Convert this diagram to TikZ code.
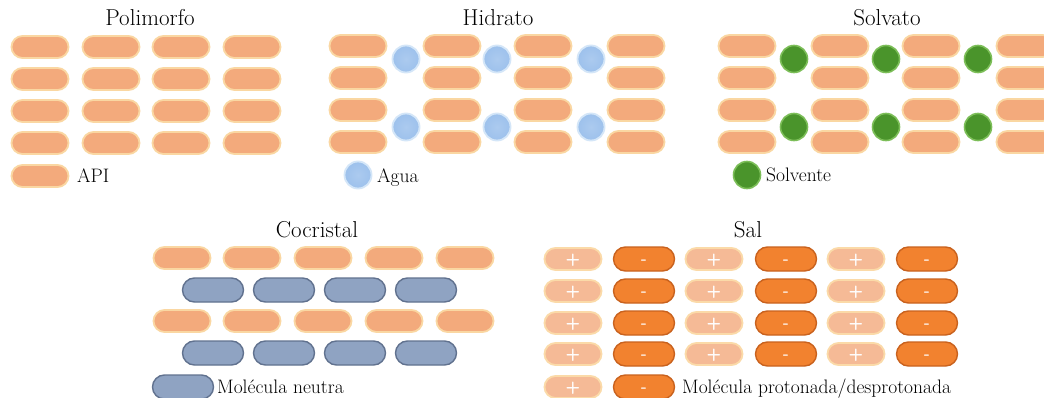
\documentclass[tikz,border=0pt]{standalone}
\usetikzlibrary{shapes.misc}
\definecolor{apifill}{HTML}{F3AA7C}
\definecolor{apirim}{HTML}{FAD7A2}
\definecolor{waterfill}{HTML}{9DC1EC}
\definecolor{waterrim}{HTML}{D4E6F8}
\definecolor{solvfill}{HTML}{4A942B}
\definecolor{solvrim}{HTML}{7CBE58}
\definecolor{neutfill}{HTML}{8FA3C2}
\definecolor{neutrim}{HTML}{61728F}
\definecolor{posfill}{HTML}{F5BA96}
\definecolor{posrim}{HTML}{FBDAA8}
\definecolor{negfill}{HTML}{F2822F}
\definecolor{negrim}{HTML}{C9621E}
\tikzset{
  pill/.style={rounded rectangle, inner sep=0pt, minimum width=57, minimum height=22, line width=1.8pt,
    path picture={\draw[white, opacity=0.35, line width=1.2pt]
      ([xshift=6pt, yshift=-4.5pt]path picture bounding box.south west) -- ([xshift=-6pt, yshift=-4.5pt]path picture bounding box.south east);}},
  api/.style={pill, fill=apifill, draw=apirim},
  neutral/.style={pill, minimum width=61, minimum height=24, fill=neutfill, draw=neutrim, line width=1.4pt},
  sign/.style={text=white, text height=10pt, text depth=0pt, font=\sffamily\bfseries\fontsize{17}{17}\selectfont},
  cation/.style={pill, fill=posfill, draw=posrim, sign},
  anion/.style={pill, minimum width=61, minimum height=24, fill=negfill, draw=negrim, line width=1.4pt, sign},
  water/.style={circle, inner sep=0pt, minimum size=27, inner color=waterfill!85!white, outer color=waterfill, draw=waterrim, line width=1.8pt},
  solvent/.style={circle, inner sep=0pt, minimum size=27, fill=solvfill, draw=solvrim, line width=1.6pt},
  title/.style={anchor=base, inner sep=0pt, font=\fontsize{23}{27}\selectfont},
  legend/.style={anchor=base west, inner sep=0pt, font=\fontsize{19.5}{23}\selectfont}
}
\begin{document}
\begin{tikzpicture}[x=1pt, y=-1pt]
\useasboundingbox (0,0) rectangle (1044,398);
\clip (0,0) rectangle (1044,398);
\fill[white] (0,0) rectangle (1044,398);

% ---- Polimorfo ----
\node[title] (tpoli) at (150,26) {Polimorfo};
\foreach \x [count=\i] in {40,111,181,252}
  \foreach \y [count=\j] in {47,79,111,143}
    \node[api] (poli-\i-\j) at (\x,\y) {};
\node[api] (poli-key) at (40,176) {};
\node[legend] (poli-lab) at (77,183) {API};

% ---- Hidrato ----
\node[title] (thid) at (498,26) {Hidrato};
\foreach \x [count=\i] in {358,452,543,636}
  \foreach \y [count=\j] in {46,78,110,142}
    \node[api] (hid-\i-\j) at (\x,\y) {};
\foreach \x [count=\i] in {406,497,591}
  \foreach \y [count=\j] in {59,127}
    \node[water] (wat-\i-\j) at (\x,\y) {};
\node[water] (wat-key) at (358,175) {};
\node[legend] (hid-lab) at (377,183) {Agua};

% ---- Solvato ----
\node[title] (tsolv) at (887,26) {Solvato};
\foreach \x [count=\i] in {747,840,931,1025}
  \foreach \y [count=\j] in {46,78,110,142}
    \node[api] (solv-\i-\j) at (\x,\y) {};
\foreach \x [count=\i] in {794,886,978}
  \foreach \y [count=\j] in {59,127}
    \node[solvent] (sv-\i-\j) at (\x,\y) {};
\node[solvent] (sv-key) at (747,175) {};
\node[legend] (solv-lab) at (766,182) {Solvente};

% ---- Cocristal ----
\node[title] (tco) at (317,237) {Cocristal};
\foreach \x [count=\i] in {182,252,323,394,465}
  \foreach \y [count=\j] in {258,321}
    \node[api] (co-a-\i-\j) at (\x,\y) {};
\foreach \x [count=\i] in {213,284,355,426}
  \foreach \y [count=\j] in {290,353}
    \node[neutral] (co-n-\i-\j) at (\x,\y) {};
\node[neutral] (co-key) at (183,387) {};
\node[legend] (co-lab) at (217,393) {Molécula neutra};

% ---- Sal ----
\node[title] (tsal) at (748,237) {Sal};
\foreach \y [count=\j] in {259,291,323,354} {
  \foreach \x [count=\i] in {573,714,856}
    \node[cation] (sal-p-\i-\j) at (\x,\y) {+};
  \foreach \x [count=\i] in {644,786,927}
    \node[anion] (sal-m-\i-\j) at (\x,\y) {-};
}
\node[cation] (sal-pkey) at (573,387) {+};
\node[anion] (sal-mkey) at (644,387) {-};
\node[legend] (sal-lab) at (682,393) {Molécula protonada/desprotonada};
\end{tikzpicture}
\end{document}
